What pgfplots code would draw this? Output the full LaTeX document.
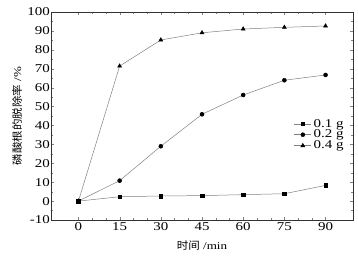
\documentclass[border=0pt]{standalone}
\usepackage{pgfplots}
\pgfplotsset{compat=1.18}
\usepackage{fontspec}
\setmainfont[FakeStretch=1.25]{Liberation Serif}
\newfontfamily\cjk[FakeStretch=1.1]{Noto Sans CJK SC}
\begin{document}
\begin{tikzpicture}
\begin{axis}[
  name=ax,
  scale only axis,
  width=302bp, height=208bp,
  xmin=-10, xmax=100, ymin=-10, ymax=100,
  xtick={0,15,30,45,60,75,90},
  ytick={-10,0,10,20,30,40,50,60,70,80,90,100},
  minor x tick num=2,
  minor y tick num=1,
  tick align=inside,
  axis line style={line width=0.6pt, black!80},
  major tick length=3pt, minor tick length=1.8pt,
  /pgf/number format/assume math mode=true,
  tick label style={font=\fontsize{12}{13}\selectfont},
  yticklabel style={inner sep=1pt},
  xticklabel style={inner sep=2pt},
  xlabel={{\cjk 时间} /min},
  ylabel={{\cjk 磷酸根的脱除率} /\%},
  label style={font=\fontsize{10.5}{11}\selectfont},
  xlabel style={at={(axis description cs:0.5,-0.125)}, anchor=center},
  ylabel style={at={(axis description cs:-0.112,0.5)}, anchor=center},
  legend style={draw=none, fill=none, at={(0.89,0.41)}, anchor=center, font=\fontsize{12}{12}\selectfont, row sep=-2.5pt, inner sep=0pt},
  legend cell align=left,
  every axis plot/.append style={gray, line width=0.5pt, mark options={black, fill=black, solid}},
]
\addplot[mark=square*, mark size=1.8pt] coordinates {(0,0) (15,2.3) (30,2.7) (45,2.9) (60,3.4) (75,3.9) (90,8.3)};
\addplot[mark=*, mark size=2pt] coordinates {(0,0) (15,10.8) (30,29) (45,45.9) (60,56.1) (75,63.9) (90,66.7)};
\addplot[mark=triangle*, mark size=2.3pt] coordinates {(0,0) (15,71.4) (30,85.2) (45,89) (60,91) (75,91.9) (90,92.6)};
\legend{0.1 g, 0.2 g, 0.4 g}
\end{axis}
\pgfresetboundingbox
\path ([shift={(-51bp,-36bp)}]ax.south west) rectangle ([shift={(5bp,12bp)}]ax.north east);
\end{tikzpicture}
\end{document}
